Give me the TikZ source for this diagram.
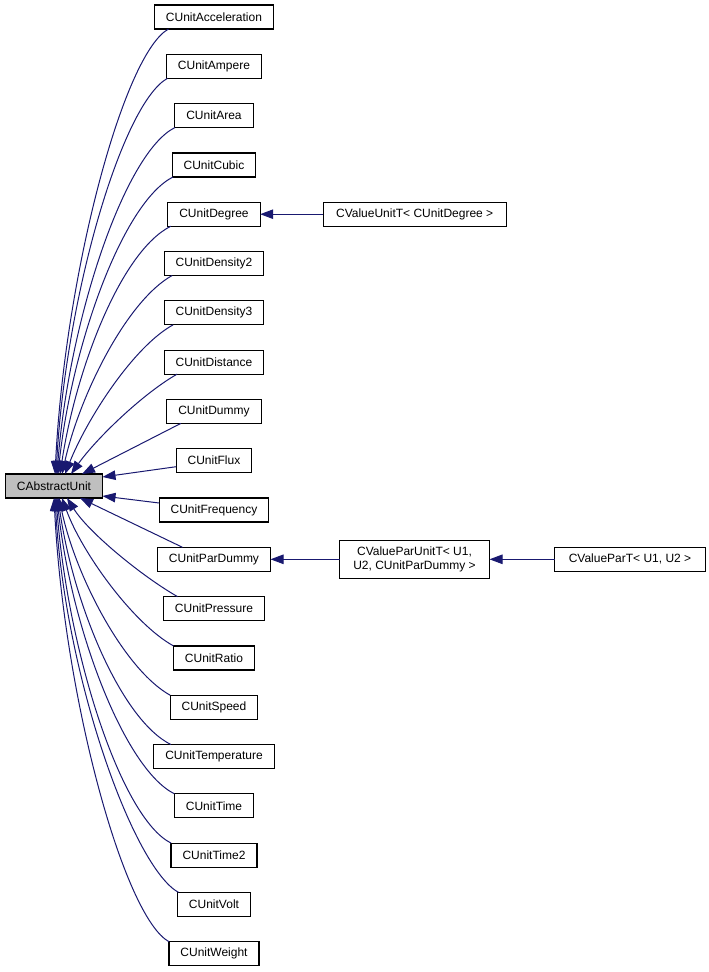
\documentclass[tikz,border=0pt]{standalone}
\usepackage{fontspec}
\setmainfont{Liberation Sans}
\usepackage{xcolor}
\usepackage{tikz}
\usetikzlibrary{arrows.meta, positioning}
\definecolor{edgeblue}{HTML}{191970}
\definecolor{basegray}{HTML}{BFBFBF}

\begin{document}
\begin{tikzpicture}[
  x=1pt, y=1pt,
  cls/.style={rectangle, draw=black, line width=1.2pt, fill=white,
              minimum height=24pt, inner xsep=11.5pt, inner ysep=0pt, outer sep=0pt,
              align=center, font=\fontsize{12}{14}\selectfont},
  base/.style={cls, fill=basegray},
  edge/.style={-{Triangle[length=13pt,width=9.5pt]}, draw=edgeblue, line width=1pt},
  node distance=25.3pt
]
  \useasboundingbox (0,0) rectangle (709,-972);

  \node[base] (cau) at (54,-486) {CAbstractUnit};

  \node[cls] (acc) at (214,-17) {CUnitAcceleration};
  \node[cls, below=of acc] (amp) {CUnitAmpere};
  \node[cls, below=of amp] (area) {CUnitArea};
  \node[cls, below=of area] (cub) {CUnitCubic};
  \node[cls, below=of cub] (deg) {CUnitDegree};
  \node[cls, below=of deg] (dens2) {CUnitDensity2};
  \node[cls, below=of dens2] (dens3) {CUnitDensity3};
  \node[cls, below=of dens3] (dist) {CUnitDistance};
  \node[cls, below=of dist] (dum) {CUnitDummy};
  \node[cls, below=of dum] (flux) {CUnitFlux};
  \node[cls, below=of flux] (freq) {CUnitFrequency};
  \node[cls, below=of freq] (pard) {CUnitParDummy};
  \node[cls, below=of pard] (pres) {CUnitPressure};
  \node[cls, below=of pres] (ratio) {CUnitRatio};
  \node[cls, below=of ratio] (speed) {CUnitSpeed};
  \node[cls, below=of speed] (temp) {CUnitTemperature};
  \node[cls, below=of temp] (time) {CUnitTime};
  \node[cls, below=of time] (time2) {CUnitTime2};
  \node[cls, below=of time2] (volt) {CUnitVolt};
  \node[cls, below=of volt] (wgt) {CUnitWeight};

  % template instances
  \node[cls, minimum width=183pt, right=63pt of deg] (vut) {CValueUnitT< CUnitDegree >};
  \node[cls, minimum width=150pt, minimum height=38pt, right=69pt of pard] (vpu) {CValueParUnitT< U1,\\ U2, CUnitParDummy >};
  \node[cls, minimum width=151pt, right=65pt of vpu] (vpt) {CValueParT< U1, U2 >};

  \draw[edge] (vut) -- (deg);
  \draw[edge] (vpu) -- (pard);
  \draw[edge] (vpt) -- (vpu);

  % upper children
  \draw[edge] ([xshift=14pt]acc.south west) .. controls +(-45,-25) and +(10,200) .. ([xshift=1pt]cau.north);
  \draw[edge] ([xshift=1pt]amp.south west) .. controls +(-45,-25) and +(10,180) .. ([xshift=2pt]cau.north);
  \draw[edge] (area.south west) .. controls +(-50,-25) and +(12,155) .. ([xshift=3pt]cau.north);
  \draw[edge] ([xshift=1pt]cub.south west) .. controls +(-50,-25) and +(14,130) .. ([xshift=4pt]cau.north);
  \draw[edge] ([xshift=3pt]deg.south west) .. controls +(-50,-25) and +(16,105) .. ([xshift=6pt]cau.north);
  \draw[edge] ([xshift=8pt]dens2.south west) .. controls +(-45,-25) and +(18,80) .. ([xshift=8pt]cau.north);
  \draw[edge] ([xshift=9pt]dens3.south west) .. controls +(-40,-22) and +(22,55) .. ([xshift=11pt]cau.north);
  \draw[edge] ([xshift=13pt]dist.south west) .. controls +(-35,-20) and +(25,35) .. ([xshift=17pt]cau.north);
  \draw[edge] ([xshift=14pt]dum.south west) -- ([xshift=28pt]cau.north);

  % side children
  \draw[edge] ([yshift=-6pt]flux.west) -- ([yshift=9pt]cau.east);
  \draw[edge] ([yshift=7pt]freq.west) -- ([yshift=-10pt]cau.east);
  \draw[edge] ([xshift=25pt]pard.north west) -- ([xshift=26pt]cau.south);

  % lower children
  \draw[edge] ([xshift=14pt]pres.north west) .. controls +(-35,20) and +(22,-35) .. ([xshift=13pt]cau.south);
  \draw[edge] (ratio.north west) .. controls +(-40,22) and +(20,-55) .. ([xshift=8pt]cau.south);
  \draw[edge] (speed.north west) .. controls +(-45,25) and +(17,-80) .. ([xshift=5pt]cau.south);
  \draw[edge] ([xshift=17pt]temp.north west) .. controls +(-50,25) and +(15,-105) .. ([xshift=4pt]cau.south);
  \draw[edge] (time.north west) .. controls +(-50,25) and +(14,-130) .. ([xshift=3pt]cau.south);
  \draw[edge] (time2.north west) .. controls +(-50,25) and +(12,-155) .. ([xshift=2pt]cau.south);
  \draw[edge] ([xshift=1pt]volt.north west) .. controls +(-45,25) and +(10,-180) .. ([xshift=1pt]cau.south);
  \draw[edge] (wgt.north west) .. controls +(-45,25) and +(10,-200) .. (cau.south);
\end{tikzpicture}
\end{document}
